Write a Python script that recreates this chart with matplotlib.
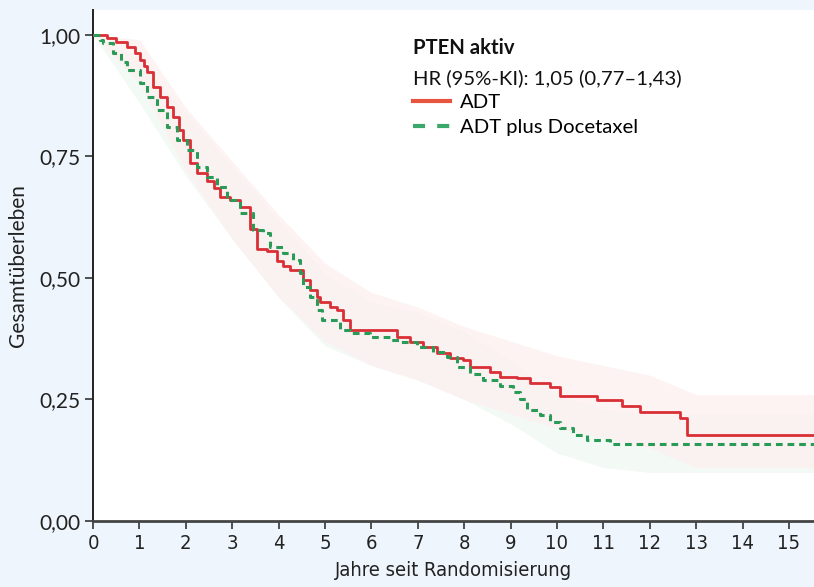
import matplotlib
matplotlib.use("Agg")
import matplotlib.pyplot as plt
from matplotlib.lines import Line2D

# ---- data ----
red_t = [0, 0.30, 0.50, 0.73, 0.90, 1.01, 1.10, 1.16, 1.29, 1.44, 1.59, 1.72, 1.85, 1.94,
         2.09, 2.24, 2.46, 2.60, 2.74, 2.95, 3.17, 3.38, 3.53, 3.75, 3.97, 4.10, 4.25,
         4.53, 4.68, 4.83, 4.89, 5.11, 5.26, 5.39, 5.54, 6.55, 6.83, 7.11, 7.41, 7.69,
         7.97, 8.13, 8.56, 8.77, 9.14, 9.42, 9.85, 10.06, 10.86, 11.40, 11.79, 12.65,
         12.80, 15.6]
red_s = [1.000, 0.993, 0.985, 0.975, 0.962, 0.948, 0.936, 0.924, 0.893, 0.872, 0.852, 0.831,
         0.805, 0.784, 0.737, 0.716, 0.700, 0.685, 0.667, 0.660, 0.646, 0.600, 0.560, 0.555,
         0.535, 0.525, 0.516, 0.496, 0.475, 0.460, 0.450, 0.440, 0.434, 0.414, 0.393, 0.379,
         0.368, 0.358, 0.346, 0.335, 0.331, 0.317, 0.307, 0.296, 0.294, 0.284, 0.276, 0.258,
         0.249, 0.237, 0.224, 0.212, 0.177, 0.177]

grn_t = [0, 0.15, 0.22, 0.43, 0.60, 0.73, 1.01, 1.16, 1.38, 1.59, 1.81, 2.03, 2.24, 2.46,
         2.67, 2.89, 3.17, 3.45, 3.66, 3.81, 4.09, 4.31, 4.46, 4.53, 4.68, 4.83, 4.94, 5.32,
         5.54, 5.97, 6.40, 6.62, 6.98, 7.33, 7.63, 7.84, 8.13, 8.41, 8.77, 9.05, 9.20, 9.35,
         9.63, 9.85, 10.06, 10.34, 10.65, 11.14, 15.6]
grn_s = [1.000, 0.990, 0.983, 0.963, 0.945, 0.928, 0.901, 0.872, 0.846, 0.811, 0.784, 0.763,
         0.728, 0.708, 0.687, 0.660, 0.634, 0.599, 0.593, 0.564, 0.551, 0.537, 0.510, 0.481,
         0.461, 0.434, 0.414, 0.393, 0.387, 0.379, 0.372, 0.368, 0.358, 0.348, 0.337, 0.317,
         0.303, 0.290, 0.278, 0.265, 0.250, 0.228, 0.218, 0.204, 0.191, 0.177, 0.167, 0.158,
         0.158]

# approximate 95% confidence bands (faint shading)
ci_t = [0, 1, 2, 3, 4, 5, 6, 7, 8, 9, 10, 11, 12, 13, 15.6]
red_lo = [1.00, 0.90, 0.72, 0.58, 0.46, 0.37, 0.32, 0.29, 0.25, 0.22, 0.19, 0.17, 0.15, 0.11, 0.11]
red_hi = [1.00, 0.99, 0.85, 0.74, 0.63, 0.53, 0.47, 0.44, 0.40, 0.37, 0.34, 0.32, 0.30, 0.26, 0.26]
grn_lo = [1.00, 0.86, 0.71, 0.58, 0.46, 0.36, 0.32, 0.29, 0.25, 0.20, 0.14, 0.11, 0.10, 0.10, 0.10]
grn_hi = [1.00, 0.95, 0.84, 0.73, 0.62, 0.51, 0.45, 0.43, 0.39, 0.33, 0.26, 0.23, 0.22, 0.22, 0.22]

x_ticks = list(range(0, 16))
y_ticks = [0.0, 0.25, 0.5, 0.75, 1.0]
y_labels = ["0,00", "0,25", "0,50", "0,75", "1,00"]

title = "PTEN aktiv"
hr_text = "HR (95%-KI): 1,05 (0,77\u20131,43)"
series_names = ["ADT", "ADT plus Docetaxel"]
xlabel = "Jahre seit Randomisierung"
ylabel = "Gesamtüberleben"

# ---- style ----
BG = "#eef5fc"
RED = "#d92f36"
GREEN = "#2a9a57"
LEG_RED = "#e8553e"
LEG_GREEN = "#3aa86a"
FONT = ["Lato", "DejaVu Sans"]
COND = ["DejaVu Sans"]

fig = plt.figure(figsize=(8.14, 5.87), dpi=100, facecolor=BG)
ax = fig.add_axes([0.1143, 0.1124, 0.8857, 0.8706])
ax.set_facecolor("white")

ax.fill_between(ci_t, grn_lo, grn_hi, color="#f3f9f5", lw=0, zorder=1)
ax.fill_between(ci_t, red_lo, red_hi, color="#fdf1f1", alpha=0.8, lw=0, zorder=1)

ax.step(red_t, red_s, where="post", color=RED, lw=2.0, zorder=3)
ax.step(grn_t, grn_s, where="post", color=GREEN, lw=2.2, linestyle=(0, (2.2, 1.6)), zorder=4)

ax.set_xlim(0, 15.54)
ax.set_ylim(0, 1.051)
ax.set_xticks(x_ticks)
ax.set_xticklabels([str(v) for v in x_ticks], family=COND, stretch="condensed",
                   fontsize=14.5, color="#222")
ax.set_yticks(y_ticks)
ax.set_yticklabels(y_labels, family=FONT, fontsize=15, color="#222")
ax.tick_params(axis="both", direction="out", length=6, width=1.2, color="#333", pad=3)

for s in ["top", "right"]:
    ax.spines[s].set_visible(False)
ax.spines["left"].set_color("#222")
ax.spines["bottom"].set_color("#444")
ax.spines["left"].set_linewidth(1.4)
ax.spines["bottom"].set_linewidth(2.0)

ax.set_xlabel(xlabel, family=COND, stretch="condensed", fontsize=14.5, color="#222", labelpad=6)
ax.set_ylabel(ylabel, family=FONT, fontsize=15, color="#222", labelpad=8)

# legend block
ax.text(0.4438, 0.925, title, transform=ax.transAxes, family=FONT, fontsize=14.6,
        fontweight="bold", color="#111", va="center", ha="left")
ax.text(0.4438, 0.867, hr_text, transform=ax.transAxes, family=FONT, fontsize=14.6,
        color="#111", va="center", ha="left")
handles = [Line2D([], [], color=LEG_RED, lw=3.0),
           Line2D([], [], color=LEG_GREEN, lw=3.0, linestyle=(0, (2.9, 2.9)))]
leg = ax.legend(handles, series_names, loc="upper left", bbox_to_anchor=(0.4438, 0.836),
                frameon=False, handlelength=1.8, handletextpad=0.5, labelspacing=0.38,
                borderpad=0, prop={"family": FONT, "size": 14.6}, borderaxespad=0)

fig.savefig("out.png", dpi=100, facecolor=BG)
